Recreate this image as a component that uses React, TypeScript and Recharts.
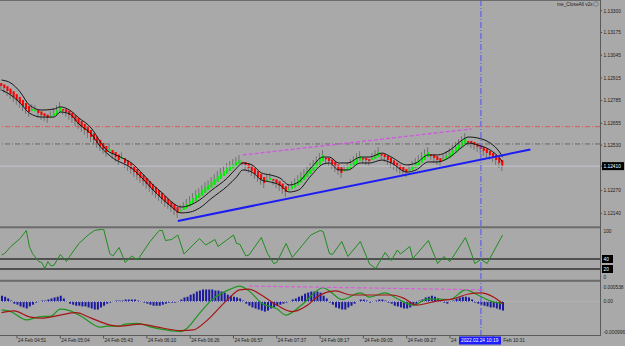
import React from "react";
import { Bar, ComposedChart, Line, ReferenceLine, XAxis, YAxis } from "recharts";

// 163 bars on screen, the rest of the 194 slots is the empty shift on the right
const SLOTS = 194;
const WICK = 0.00028;
const HA_SEED = 1.12886;
const LAST_PRICE = 1.1241;

const closes = [
  1.12869, 1.12857, 1.1284, 1.12823, 1.12806, 1.12789, 1.12772, 1.12754, 1.12737, 1.1272,
  1.12726, 1.12731, 1.12714, 1.12703, 1.12697, 1.12686, 1.12697, 1.12714, 1.12731, 1.12749,
  1.12737, 1.1272, 1.12703, 1.12686, 1.12668, 1.12651, 1.12634, 1.12617, 1.126, 1.12577,
  1.1256, 1.12542, 1.12525, 1.12508, 1.12491, 1.12497, 1.12479, 1.12462, 1.12445, 1.12451,
  1.12428, 1.12411, 1.12394, 1.12376, 1.12359, 1.12342, 1.12325, 1.12308, 1.12291, 1.12273,
  1.12256, 1.12239, 1.12222, 1.12205, 1.12193, 1.12176, 1.12159, 1.12142, 1.12159, 1.12176,
  1.12193, 1.1221, 1.12227, 1.12245, 1.12256, 1.12273, 1.12291, 1.12302, 1.12319, 1.12336,
  1.12354, 1.12371, 1.12382, 1.12399, 1.12411, 1.12422, 1.12434, 1.12445, 1.12434, 1.12417,
  1.12399, 1.12382, 1.12365, 1.12348, 1.12331, 1.12313, 1.12331, 1.12342, 1.12331, 1.12313,
  1.12296, 1.12279, 1.12262, 1.12279, 1.12296, 1.12313, 1.12331, 1.12348, 1.12365, 1.12382,
  1.12399, 1.12417, 1.12439, 1.12457, 1.12474, 1.12457, 1.12439, 1.12422, 1.12405, 1.12388,
  1.12371, 1.12388, 1.12405, 1.12422, 1.12439, 1.12457, 1.12468, 1.12457, 1.12445, 1.12439,
  1.12457, 1.12474, 1.12491, 1.12479, 1.12462, 1.12445, 1.12428, 1.12417, 1.12405, 1.12394,
  1.12382, 1.12376, 1.12394, 1.12411, 1.12428, 1.12445, 1.12462, 1.12479, 1.12491, 1.12474,
  1.12457, 1.12445, 1.12434, 1.12451, 1.12468, 1.12485, 1.12502, 1.1252, 1.12537, 1.12554,
  1.12571, 1.12554, 1.12542, 1.12531, 1.1252, 1.12508, 1.12497, 1.12485, 1.12474, 1.12462,
  1.12445, 1.12428, 1.1241,
];

// channel lines, read every few bars
const maIdx = [
  0, 3, 6, 9, 13, 17, 19, 22, 25, 29, 32, 34, 37, 39, 42, 46, 49, 52, 55, 58, 61, 64, 68, 73, 76, 78,
  81, 84, 87, 90, 93, 96, 100, 104, 106, 109, 112, 116, 119, 123, 126, 131, 134, 138, 141, 145, 149,
  151, 154, 158, 161, 162,
];
const maUpper = [
  1.12903, 1.12886, 1.12835, 1.1276, 1.12731, 1.12737, 1.12749, 1.12731, 1.12686, 1.12628, 1.12548,
  1.12502, 1.12474, 1.12457, 1.12428, 1.12359, 1.12302, 1.12256, 1.12205, 1.12176, 1.12187, 1.12216,
  1.12273, 1.12342, 1.12399, 1.12428, 1.12417, 1.12371, 1.12359, 1.12342, 1.12302, 1.12319, 1.12399,
  1.12462, 1.12462, 1.12428, 1.12428, 1.12462, 1.12462, 1.12485, 1.12462, 1.12417, 1.12428, 1.12474,
  1.12474, 1.12502, 1.1256, 1.12577, 1.12571, 1.12542, 1.12491, 1.12462,
];
const maLower = [
  1.12846, 1.12817, 1.12772, 1.12714, 1.12691, 1.12691, 1.1272, 1.12709, 1.12651, 1.12594, 1.1252,
  1.12485, 1.12445, 1.12428, 1.12399, 1.12331, 1.12273, 1.12222, 1.12176, 1.12142, 1.12147, 1.1217,
  1.12227, 1.12296, 1.12348, 1.12388, 1.12376, 1.12331, 1.12319, 1.12302, 1.12262, 1.12273, 1.12354,
  1.12422, 1.12428, 1.12388, 1.12388, 1.12428, 1.12428, 1.12445, 1.12428, 1.12376, 1.12388, 1.12434,
  1.12434, 1.12462, 1.1252, 1.12542, 1.12531, 1.12502, 1.12457, 1.12434,
];

// oscillator in the middle pane
const oscIdx = [
  0, 1, 3, 6, 8, 9, 10, 12, 13, 14, 15, 16, 17, 19, 21, 22, 25, 28, 30, 33, 35, 36, 38, 40, 42, 44,
  48, 51, 52, 53, 55, 57, 59, 64, 66, 69, 70, 75, 76, 77, 79, 80, 84, 86, 88, 89, 92, 94, 100, 103,
  104, 106, 107, 110, 112, 116, 119, 121, 124, 126, 128, 129, 132, 133, 138, 141, 143, 145, 150, 152,
  153, 155, 157, 162,
];
const oscVal = [
  48, 51, 65, 81, 97, 65, 51, 35, 33, 21, 35, 26, 28, 49, 35, 45, 71, 88, 97, 100, 51, 46, 63, 33, 46,
  38, 75, 97, 97, 77, 79, 88, 50, 81, 68, 79, 65, 88, 71, 70, 46, 48, 83, 51, 31, 33, 71, 43, 88, 97,
  95, 51, 49, 75, 45, 75, 30, 21, 53, 37, 58, 50, 65, 41, 77, 31, 45, 35, 83, 50, 31, 39, 31, 88,
];

// lower pane
const hist = [
  0.00017, 0.00014, 0.00009, 0.00003, -0.00006, -0.00009, -0.00014, -0.00017, -0.0002, -0.00014,
  -0.00009, -0.00003, 0.00001, 0.00003, 0.00003, 0.00006, 0.00009, 0.00012, 0.00014, 0.00017,
  0.00009, -0.00001, -0.00006, -0.00009, -0.00012, -0.00012, -0.00014, -0.00014, -0.00017, -0.0002,
  -0.00023, -0.00023, -0.00017, -0.00012, -0.00006, -0.00003, 0.00001, 0.00003, 0.00003, 0.00003,
  0.00006, 0.00006, 0.00006, 0.00006, 0.00003, -0.00001, -0.00003, -0.00006, -0.00009, -0.00012,
  -0.00012, -0.00012, -0.00009, -0.00006, -0.00003, -0.00003, -0.00003, 0.00001, 0.00006, 0.00012,
  0.00014, 0.0002, 0.00023, 0.00029, 0.00032, 0.00035, 0.00035, 0.00035, 0.00035, 0.00032,
  0.00032, 0.00029, 0.00026, 0.0002, 0.00017, 0.00014, 0.00012, 0.00009, 0.00003, -0.00006,
  -0.00012, -0.00017, -0.0002, -0.00023, -0.00026, -0.00029, -0.00026, -0.0002, -0.00017, -0.00012,
  -0.00009, -0.00006, -0.00003, 0.00001, 0.00006, 0.00009, 0.00014, 0.00017, 0.00023, 0.00026,
  0.00029, 0.00029, 0.00029, 0.00026, 0.00017, 0.00009, -0.00003, -0.00009, -0.00017, -0.0002,
  -0.00023, -0.00023, -0.00017, -0.00012, -0.00006, 0.00001, 0.00006, 0.00006, 0.00003, -0.00003,
  0.00001, 0.00003, 0.00006, 0.00006, 0.00003, -0.00003, -0.00006, -0.00012, -0.00014, -0.00017,
  -0.0002, -0.0002, -0.00017, -0.00012, -0.00009, 0.00003, 0.00006, 0.00012, 0.00014, 0.00017,
  0.00014, 0.00009, 0.00003, -0.00003, -0.00006, 0.00001, 0.00003, 0.00009, 0.00012, 0.00014,
  0.00014, 0.00012, 0.00006, -0.00003, -0.00006, -0.00009, -0.00012, -0.00014, -0.00017, -0.00017,
  -0.0002, -0.00023, -0.00026,
];
const macdIdx = [
  0, 3, 8, 12, 16, 19, 22, 26, 32, 34, 38, 40, 44, 48, 53, 58, 60, 64, 68, 74, 77, 80, 84, 89, 92, 97,
  104, 106, 110, 116, 119, 124, 128, 133, 138, 145, 150, 154, 158, 162,
];
const macdMain = [
  -0.00024, -0.00029, -0.00053, -0.00044, -0.00042, -0.00022, -0.00026, -0.00044, -0.00074, -0.00071,
  -0.00071, -0.00065, -0.00063, -0.00073, -0.00082, -0.00087, -0.00077, -0.00034, 0.00005, 0.00036,
  0.00045, 0.00031, -0.00004, -0.00021, -0.00039, -0.0001, 0.0004, 0.00031, 0.00006, 0.00025,
  0.00013, 0.00025, 0.00008, -0.0001, 0.00008, 0.00006, 0.00034, 0.00019, 0.00002, -0.00006,
];
const sigIdx = [
  0, 4, 9, 13, 19, 24, 29, 34, 38, 45, 50, 58, 62, 66, 73, 77, 80, 84, 89, 94, 99, 102, 108, 113, 119,
  126, 130, 134, 141, 146, 151, 155, 159, 162,
];
const sigVal = [
  -0.00032, -0.00027, -0.00044, -0.00048, -0.00039, -0.00032, -0.00048, -0.00065, -0.00071, -0.00065,
  -0.00073, -0.00084, -0.00082, -0.00058, 0.00005, 0.00034, 0.00036, 0.00019, -0.0001, -0.00029,
  -0.0001, 0.00013, 0.00031, 0.00019, 0.00019, 0.00019, 0.0001, -0.0001, 0.00002, 0.00008, 0.00022,
  0.00025, 0.00013, -0.00006,
];

const priceTicks = [1.133, 1.13175, 1.13045, 1.12915, 1.12785, 1.12655, 1.1253, 1.1241, 1.1227, 1.1214];
const oscTicks = [100, 40, 20, 0];
const macdTicks = [0.000538, 0, -0.000996];
// the two last labels are partly covered by the cursor date box, only their visible parts are kept
const timeTicks = [5, 19, 33, 47, 61, 75, 89, 103, 117, 131, 145, 159];
const timeLabels = [
  "24 Feb 04:51", "24 Feb 05:04", "24 Feb 05:43", "24 Feb 06:10", "24 Feb 06:26", "24 Feb 06:57",
  "24 Feb 07:37", "24 Feb 08:17", "24 Feb 09:05", "24 Feb 09:27", "24", "Feb 10:31",
];
const timeShift = [0, 0, 0, 0, 0, 0, 0, 0, 0, 0, 0, 9];

// heiken ashi style rows
const rows: any[] = Array.from({ length: SLOTS }, (_, i) => ({ i }));
let prevOpen = HA_SEED;
closes.forEach((c, i) => {
  const o = i === 0 ? HA_SEED : (prevOpen + closes[i - 1]) / 2;
  prevOpen = o;
  const up = i > 0 && c >= closes[i - 1];
  const lo = Math.min(o, c);
  const hi = Math.max(o, c);
  rows[i].o = o;
  rows[i].c = c;
  rows[i].up = up;
  rows[i].hl = up ? [lo, hi + WICK] : [lo - WICK, hi];
  rows[i].h = hist[i];
});
maIdx.forEach((k, j) => {
  rows[k].ma1 = maUpper[j];
  rows[k].ma2 = maLower[j];
});
oscIdx.forEach((k, j) => (rows[k].osc = oscVal[j]));
macdIdx.forEach((k, j) => (rows[k].macd = macdMain[j]));
sigIdx.forEach((k, j) => (rows[k].sig = sigVal[j]));

const BG = "#a9a9a9";
const FONT = "'Liberation Sans', Arial, sans-serif";
const TXT = "#1c1c1c";
const FS = 4.8;
const M = { top: 0, right: 0, bottom: 0, left: 0 };

function Candle(props: any) {
  const { x, y, width, height, payload } = props;
  if (!payload || !payload.hl || !(height > 0)) return <g />;
  const [lo, hi] = payload.hl;
  const k = height / (hi - lo);
  const top = y + (hi - Math.max(payload.o, payload.c)) * k;
  const bot = y + (hi - Math.min(payload.o, payload.c)) * k;
  const cx = x + width / 2;
  return (
    <g>
      <rect x={cx - 1} y={y} width={1} height={height} fill="#727272" />
      <rect x={cx - 1} y={top} width={2} height={Math.max(bot - top, 1.5)} fill={payload.up ? "#00f000" : "#ff0000"} />
    </g>
  );
}

function PriceTick(props: any) {
  const { x, y, payload } = props;
  const v = payload.value as number;
  const label = v.toFixed(5);
  if (Math.abs(v - LAST_PRICE) < 1e-9) {
    return (
      <g>
        <rect x={x - 2} y={y - 4} width={22} height={8} fill="#000" />
        <text x={x - 0.5} y={y + 1.8} fontSize={FS} fontFamily={FONT} fill="#fff">{label}</text>
      </g>
    );
  }
  return <text x={x - 0.5} y={y + 1.8} fontSize={FS} fontFamily={FONT} fill={TXT}>{label}</text>;
}

function OscTick(props: any) {
  const { x, y, payload } = props;
  const v = payload.value as number;
  if (v === 40 || v === 20) {
    return (
      <g>
        <rect x={x - 2} y={y - 4} width={11} height={8} fill="#000" />
        <text x={x - 0.5} y={y + 1.8} fontSize={FS} fontFamily={FONT} fill="#fff">{v}</text>
      </g>
    );
  }
  return (
    <text x={x - 0.5} y={y + (v === 100 ? 3.5 : -0.2)} fontSize={FS} fontFamily={FONT} fill={TXT}>{v}</text>
  );
}

function MacdTick(props: any) {
  const { x, y, payload } = props;
  const v = payload.value as number;
  const label = v === 0 ? "0.00" : v.toFixed(6);
  const dy = v > 0 ? 5.8 : v < 0 ? -2.2 : 1.8;
  return <text x={x - 0.5} y={y + dy} fontSize={FS} fontFamily={FONT} fill={TXT}>{label}</text>;
}

function TimeTick(props: any) {
  const { x, y, payload } = props;
  const k = timeTicks.indexOf(payload.value);
  return (
    <g>
      <line x1={x} x2={x} y1={y - 3} y2={y - 0.5} stroke="#3c3c3c" strokeWidth={0.8} />
      <text x={x + 1 + timeShift[k]} y={y + 3.4} fontSize={FS} fontFamily={FONT} fill={TXT}>{timeLabels[k]}</text>
    </g>
  );
}

const vLine = <ReferenceLine x={155} stroke="#5050ff" strokeDasharray="6 2 1 2" strokeWidth={1} />;

export default function App() {
  return (
    <div style={{ position: "absolute", left: 0, top: 0, width: 625, height: 346, background: BG, overflow: "hidden" }}>
      <div style={{ position: "absolute", left: 0, top: 0 }}>
        <ComposedChart width={625} height={226} data={rows} margin={M}>
          <XAxis dataKey="i" scale="band" hide />
          <YAxis
            orientation="right"
            width={25}
            domain={[1.120672, 1.133613]}
            allowDataOverflow
            ticks={priceTicks}
            interval={0}
            tick={PriceTick}
            tickSize={2}
            tickLine={{ stroke: "#444" }}
            axisLine={false}
          />
          <ReferenceLine y={1.12636} stroke="#d85a5a" strokeDasharray="5 2 1 2" />
          <ReferenceLine y={1.12537} stroke="#666" strokeDasharray="5 2 1 2" />
          <ReferenceLine y={LAST_PRICE} stroke="#c2c2cf" />
          {vLine}
          <Bar dataKey="hl" shape={(p: any) => <Candle {...p} />} isAnimationActive={false} />
          <Line dataKey="ma1" type="monotone" stroke="#161616" strokeWidth={1} dot={false} activeDot={false} connectNulls isAnimationActive={false} />
          <Line dataKey="ma2" type="monotone" stroke="#161616" strokeWidth={1} dot={false} activeDot={false} connectNulls isAnimationActive={false} />
          <ReferenceLine segment={[{ x: 57, y: 1.12096 }, { x: 171, y: 1.12505 }]} stroke="#1c1cf5" strokeWidth={2} />
          <ReferenceLine
            segment={[{ x: 78, y: 1.12474 }, { x: 152, y: 1.12623 }]}
            stroke="#d256e0"
            strokeWidth={1.3}
            strokeDasharray="4 2"
          />
        </ComposedChart>
      </div>

      <div style={{ position: "absolute", left: 0, top: 229 }}>
        <ComposedChart width={625} height={50} data={rows} margin={M}>
          <XAxis dataKey="i" scale="band" hide />
          <YAxis
            orientation="right"
            width={25}
            domain={[0, 100]}
            allowDataOverflow
            ticks={oscTicks}
            interval={0}
            tick={OscTick}
            tickSize={2}
            tickLine={false}
            axisLine={false}
          />
          <ReferenceLine y={40} stroke="#333" strokeWidth={1.3} />
          <ReferenceLine y={20} stroke="#333" strokeWidth={1.3} />
          {vLine}
          <Line dataKey="osc" type="linear" stroke="#1f8c1f" strokeWidth={1} dot={false} activeDot={false} connectNulls isAnimationActive={false} />
        </ComposedChart>
      </div>

      <div style={{ position: "absolute", left: 0, top: 283 }}>
        <ComposedChart width={625} height={65} data={rows} margin={M}>
          <XAxis
            dataKey="i"
            scale="band"
            height={12}
            ticks={timeTicks}
            interval={0}
            tick={TimeTick}
            tickSize={3}
            tickMargin={0}
            tickLine={false}
            axisLine={false}
          />
          <YAxis
            orientation="right"
            width={25}
            domain={[-0.000996, 0.000538]}
            allowDataOverflow
            ticks={macdTicks}
            interval={0}
            tick={MacdTick}
            tickSize={2}
            tickLine={false}
            axisLine={false}
          />
          <ReferenceLine y={0} stroke="#b9b9d6" strokeDasharray="1 1" />
          {vLine}
          <Bar dataKey="h" fill="#1a1a9e" barSize={2} isAnimationActive={false} />
          <Line dataKey="macd" type="monotone" stroke="#1e961e" strokeWidth={1.2} dot={false} activeDot={false} connectNulls isAnimationActive={false} />
          <Line dataKey="sig" type="monotone" stroke="#a51414" strokeWidth={1.2} dot={false} activeDot={false} connectNulls isAnimationActive={false} />
          <ReferenceLine segment={[{ x: 80, y: 0.00045 }, { x: 156, y: 0.00034 }]} stroke="#d65ed6" strokeWidth={1.2} strokeDasharray="4 2" />
        </ComposedChart>
      </div>

      <svg width={625} height={346} style={{ position: "absolute", left: 0, top: 0, pointerEvents: "none" }}>
        <line x1={0} x2={600} y1={0.5} y2={0.5} stroke="#6c6c6c" />
        <rect x={0} y={226.3} width={600} height={2} fill="#6c6c6c" />
        <rect x={0} y={279.8} width={600} height={2} fill="#6c6c6c" />
        <line x1={600.5} x2={600.5} y1={0} y2={336} stroke="#5a5a5a" />
        <line x1={0} x2={600} y1={335.5} y2={335.5} stroke="#5a5a5a" />
        <text x={557} y={6.2} fontSize={FS} fontFamily={FONT} fill={TXT}>me_CloseAll v2x</text>
        <circle cx={596} cy={4} r={2.3} fill="none" stroke="#666" strokeWidth={0.6} />
        <rect x={459} y={336.5} width={42} height={8} fill="#1c1cff" />
        <text x={461} y={342.3} fontSize={FS} fontFamily={FONT} fill="#fff">2022.02.24 10:19</text>
      </svg>
    </div>
  );
}
